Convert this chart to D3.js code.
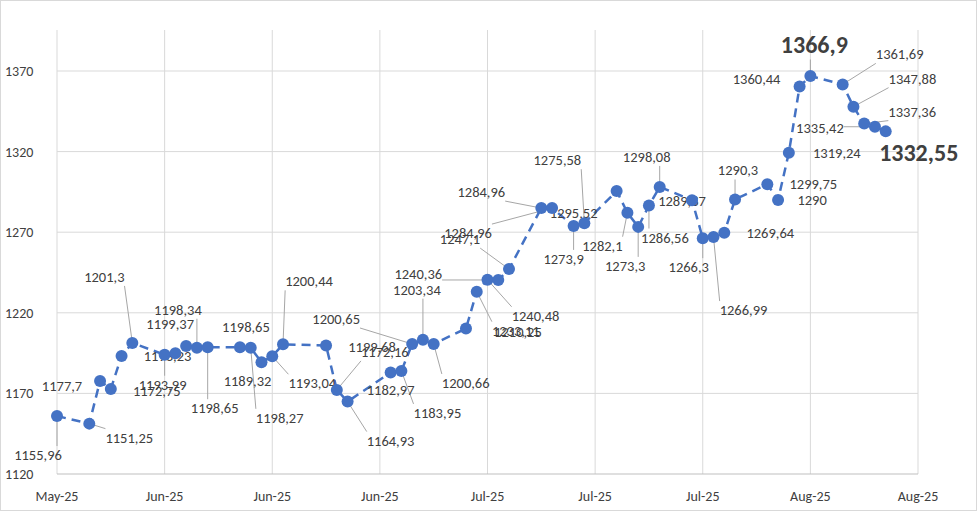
<!DOCTYPE html>
<html>
<head>
<meta charset="utf-8">
<script src="https://cdn.jsdelivr.net/npm/d3@7"></script>
<style>
  body { margin: 0; background: #fff; }
  text { font-family: Calibri, "Liberation Sans", "Open Sans", sans-serif; fill: #404040; }
</style>
</head>
<body>
<svg id="chart" width="980" height="513"></svg>
<script>
// days after 30 May 2025 (a Friday) for each quote
const dayOffsets = [0,3,4,5,6,7,10,11,12,13,14,17,18,19,20,21,25,26,27,31,32,33,34,35,38,39,40,41,42,45,46,48,49,52,53,54,55,56,59,60,61,62,63,66,67,68,69,70,73,74,75,76,77];
const values = [1155.96,1151.25,1177.7,1172.75,1193.23,1201.3,1193.99,1194.9,1199.37,1198.34,1198.65,1198.65,1198.27,1189.32,1193.04,1200.44,1199.68,1172.16,1164.93,1182.97,1183.95,1200.65,1203.34,1200.66,1210.25,1233.11,1240.48,1240.36,1247.1,1284.96,1284.96,1273.9,1275.58,1295.52,1282.1,1273.3,1286.56,1298.08,1289.87,1266.3,1266.99,1269.64,1290.3,1299.75,1290,1319.24,1360.44,1366.9,1361.69,1347.88,1337.36,1335.42,1332.55];
const yTicks = [1120,1170,1220,1270,1320,1370];
// label placement: [point index, dx, dy, leader, bold]
const labelLayout = [
  [0,-19,39,1],[1,40,14,1],[2,-38,5,0],[3,46,2,0],[4,46,0,0],[5,-28,-66,1],
  [6,-2,30,1],[8,-16,-22,0],[9,-19,-38,1],[10,7,61,1],[11,6,-20,0],[12,29,70,1],
  [13,-14,19,0],[14,40,27,1],[15,26,-63,1],[16,46,1,0],[17,48,-38,1],[18,43,39,1],
  [19,0,18,0],[20,36,42,1],[21,-76,-25,1],[22,-6,-50,1],[23,32,39,1],[24,52,3,0],
  [25,39,39,1],[26,48,36,1],[27,-80,-6,1],[28,-49,-30,1],[29,-60,-16,1],[30,-84,25,1],
  [31,-10,33,1],[32,-27,-63,1],[33,-43,22,0],[34,-25,33,1],[35,-13,39,1],[36,16,32,1],
  [37,-13,-30,1],[38,-10,1,0],[39,-14,29,1],[40,30,73,1],[41,46,0,0],[42,3,-29,1],
  [43,46,0,0],[44,34,0,0],[45,48,0,0],[46,-43,-7,0],[47,4,-31,1,1],[48,57,-30,1],
  [49,59,-28,1],[50,48,-12,1],[51,-55,1,1],[52,33,21,0,1]
];
const dateLabelTicks = d3.range(0, 81, 10);

const svg = d3.select("#chart");
const plotLeft = 57, plotRight = 918, plotTop = 30, plotBottom = 474;
const origin = new Date(2025, 4, 30);
const dates = dayOffsets.map(d => d3.timeDay.offset(origin, d));

const x = d3.scaleTime().domain([origin, d3.timeDay.offset(origin, 80)]).range([plotLeft, plotRight]);
const y = d3.scaleLinear().domain([1120, 1370]).range([plotBottom, 71]);

svg.append("rect").attr("x", 0.5).attr("y", 0.5).attr("width", 976).attr("height", 510)
  .attr("fill", "none").attr("stroke", "#d9d9d9");

const tickDates = dateLabelTicks.map(d => d3.timeDay.offset(origin, d));

// gridlines
svg.append("g").selectAll("line").data(yTicks.slice(1)).join("line")
  .attr("x1", plotLeft).attr("x2", plotRight).attr("y1", d => y(d)).attr("y2", d => y(d))
  .attr("stroke", "#d9d9d9");
svg.append("g").selectAll("line").data(tickDates).join("line")
  .attr("x1", d => x(d)).attr("x2", d => x(d)).attr("y1", plotTop).attr("y2", plotBottom)
  .attr("stroke", "#d9d9d9");
svg.append("line").attr("x1", plotLeft).attr("x2", plotRight).attr("y1", plotBottom).attr("y2", plotBottom)
  .attr("stroke", "#bfbfbf");

// axis labels
svg.append("g").selectAll("text").data(yTicks).join("text")
  .attr("x", 5).attr("y", d => y(d) + 5).attr("font-size", 14).text(d => d);
const fmt = d3.timeFormat("%b-%y");
svg.append("g").selectAll("text").data(tickDates).join("text")
  .attr("x", d => x(d)).attr("y", 501).attr("text-anchor", "middle").attr("font-size", 14)
  .text(fmt);

// line
const pts = values.map((v, i) => ({ v, px: x(dates[i]), py: y(v) }));
svg.append("path").datum(pts)
  .attr("d", d3.line().x(d => d.px).y(d => d.py))
  .attr("fill", "none").attr("stroke", "#4472C4").attr("stroke-width", 2.5)
  .attr("stroke-dasharray", "9,6");

// labels
const fmtVal = v => String(v).replace(".", ",");
const lblG = svg.append("g");
labelLayout.forEach(l => {
  const p = pts[l[0]];
  if (!p) return;
  const bold = l[4] === 1;
  const t = lblG.append("text")
    .attr("x", p.px + l[1]).attr("y", p.py + l[2])
    .attr("text-anchor", "middle").attr("dominant-baseline", "central")
    .attr("font-size", bold ? 24 : 14.5).attr("font-weight", bold ? "bold" : null)
    .text(fmtVal(p.v));
  if (l[3]) {
    const b = t.node().getBBox();
    const cx = Math.max(b.x, Math.min(p.px, b.x + b.width));
    const cy = Math.max(b.y, Math.min(p.py, b.y + b.height));
    lblG.insert("line", "text").attr("x1", p.px).attr("y1", p.py).attr("x2", cx).attr("y2", cy)
      .attr("stroke", "#a6a6a6").attr("stroke-width", 1);
  }
});

svg.append("g").selectAll("circle").data(pts).join("circle")
  .attr("cx", d => d.px).attr("cy", d => d.py).attr("r", 6).attr("fill", "#4472C4");
</script>
</body>
</html>
